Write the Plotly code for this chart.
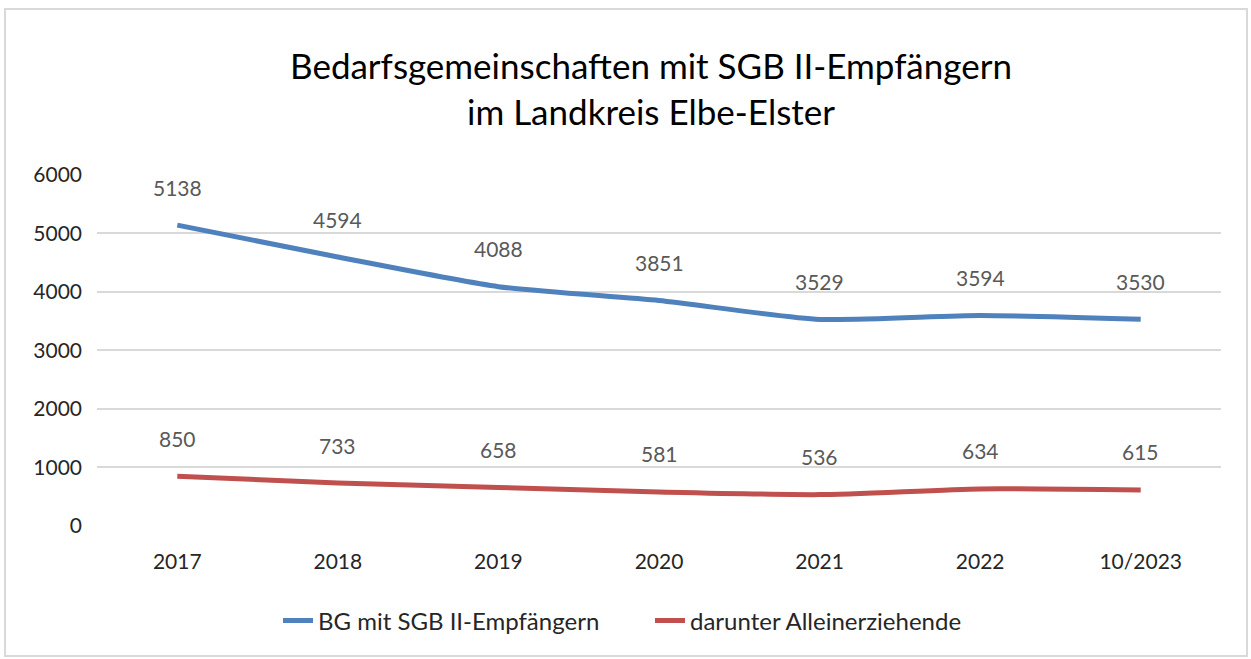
import plotly.graph_objects as go

categories = ["2017", "2018", "2019", "2020", "2021", "2022", "10/2023"]
bg_values = [5138, 4594, 4088, 3851, 3529, 3594, 3530]
allein_values = [850, 733, 658, 581, 536, 634, 615]
series_names = ["BG mit SGB II-Empfängern", "darunter Alleinerziehende"]
title_lines = ["Bedarfsgemeinschaften mit SGB II-Empfängern", "im Landkreis Elbe-Elster"]
y_ticks = [0, 1000, 2000, 3000, 4000, 5000, 6000]

FONT = "Lato, Open Sans, sans-serif"
colors = ["#4F81BD", "#C0504D"]

fig = go.Figure()
for name, vals, col in zip(series_names, [bg_values, allein_values], colors):
    fig.add_trace(go.Scatter(
        x=categories, y=vals, name=name, mode="lines",
        line=dict(color=col, width=5, shape="spline", smoothing=0.6),
        hoverinfo="x+y",
    ))
    for i, v in enumerate(vals):
        fig.add_annotation(x=i, y=v, xref="x", yref="y", text=str(v), showarrow=False,
                           yshift=38, font=dict(family=FONT, size=21, color="#595959"))

W, H = 1251, 659
L, R, T, B = 97, 30, 175, 133
pw, ph = W - L - R, H - T - B
YMAX = 6012
T = T - round(ph * (YMAX - 6000) / YMAX)
ph = H - T - B

def px(x):
    return (x - L) / pw

def py(y):
    return (H - B - y) / ph

fig.add_shape(type="rect", xref="paper", yref="paper",
              x0=px(5), x1=px(1247), y0=py(656), y1=py(9),
              line=dict(color="#D9D9D9", width=2), fillcolor="rgba(0,0,0,0)", layer="below")

fig.update_layout(
    width=W, height=H,
    margin=dict(l=L, r=R, t=T, b=B),
    paper_bgcolor="white", plot_bgcolor="white",
    title=dict(text="<br>".join(title_lines), x=651 / W, xanchor="center",
               yref="container", y=1 - 79 / H, yanchor="middle",
               font=dict(family=FONT, size=35, color="#000000")),
    font=dict(family=FONT, size=21, color="#262626"),
    showlegend=True,
    legend=dict(orientation="h", x=px(278), xanchor="left", yref="container",
                y=1 - 621 / H, yanchor="middle",
                font=dict(family=FONT, size=24, color="#262626"),
                entrywidthmode="pixels", entrywidth=327),
    xaxis=dict(type="category", showgrid=False, showline=False, zeroline=False, ticks="",
               ticklabelstandoff=21, tickfont=dict(family=FONT, size=21, color="#262626"),
               range=[-0.5, 6.5]),
    yaxis=dict(range=[0, YMAX], tickvals=y_ticks, showgrid=True, gridcolor="#D9D9D9",
               gridwidth=2, zeroline=False, showline=False, ticks="",
               ticklabelstandoff=14, tickfont=dict(family=FONT, size=21, color="#262626")),
)

fig.write_html("out.html", config={"displayModeBar": False},
               post_script="document.body.style.margin='0';")
